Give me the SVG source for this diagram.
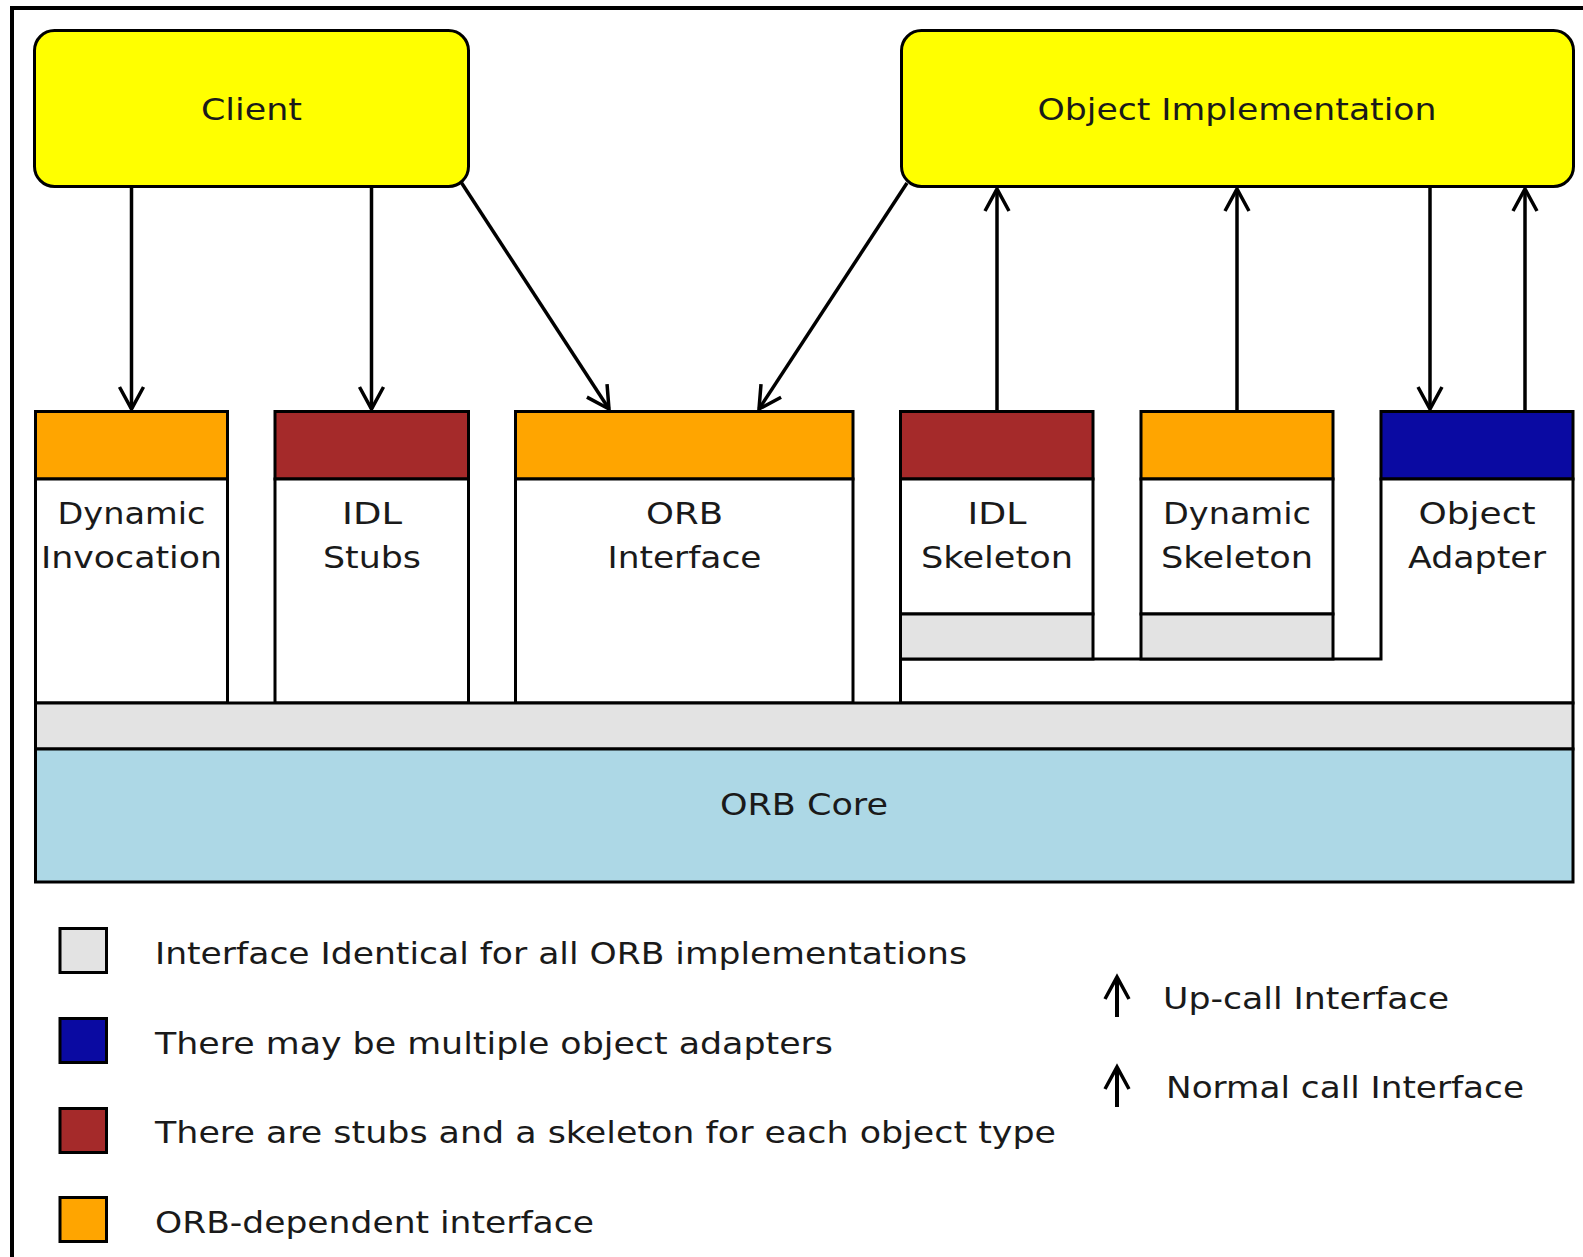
<svg xmlns="http://www.w3.org/2000/svg" width="1583" height="1257" viewBox="0 0 1583 1257">
  <style>
    .box { stroke: #000; stroke-width: 3; }
    .rbox { fill: #ffff00; stroke: #000; stroke-width: 3; }
    .orange { fill: #ffa500; }
    .brown { fill: #a52a2a; }
    .blue { fill: #0a0aa2; }
    .gray { fill: #e3e3e3; }
    .white { fill: #ffffff; }
    .core { fill: #add8e6; }
    text { font-family: "DejaVu Sans", "Liberation Sans", sans-serif; font-size: 30px; fill: #1a1a1a; }
    .c { text-anchor: middle; }
    .conn { stroke: #000; stroke-width: 3.5; fill: none; }
    .leg { stroke: #000; stroke-width: 4; fill: none; }
  </style>
  <defs>
    <marker id="ah" markerUnits="userSpaceOnUse" markerWidth="40" markerHeight="40" viewBox="-30 -20 40 40" refX="0" refY="0" orient="auto" overflow="visible">
      <path d="M-22,-12 L0,0 L-22,12" fill="none" stroke="#000" stroke-width="3.5" stroke-linejoin="miter"/>
    </marker>
  </defs>
  <rect x="0" y="0" width="1583" height="1257" fill="#ffffff"/>
  <rect id="frame" x="12" y="8" width="1700" height="1400" fill="none" stroke="#000" stroke-width="4"/>

  <g id="client">
    <rect class="rbox" x="34.5" y="30.5" width="434" height="156" rx="20"/>
    <text class="c" x="251.5" y="120" textLength="101" lengthAdjust="spacingAndGlyphs">Client</text>
  </g>
  <g id="object-implementation">
    <rect class="rbox" x="901.5" y="30.5" width="672" height="156" rx="20"/>
    <text class="c" x="1237" y="120" textLength="399" lengthAdjust="spacingAndGlyphs">Object Implementation</text>
  </g>

  <g id="dynamic-invocation">
    <rect class="box orange" x="35.5" y="411.5" width="192" height="67.5"/>
    <rect class="box white" x="35.5" y="479" width="192" height="224"/>
    <text class="c" x="131.5" y="524" textLength="148" lengthAdjust="spacingAndGlyphs">Dynamic</text>
    <text class="c" x="131.5" y="568" textLength="181" lengthAdjust="spacingAndGlyphs">Invocation</text>
  </g>
  <g id="idl-stubs">
    <rect class="box brown" x="275" y="411.5" width="193.5" height="67.5"/>
    <rect class="box white" x="275" y="479" width="193.5" height="224"/>
    <text class="c" x="372" y="524" textLength="60" lengthAdjust="spacingAndGlyphs">IDL</text>
    <text class="c" x="372" y="568" textLength="98" lengthAdjust="spacingAndGlyphs">Stubs</text>
  </g>
  <g id="orb-interface">
    <rect class="box orange" x="515.5" y="411.5" width="337.5" height="67.5"/>
    <rect class="box white" x="515.5" y="479" width="337.5" height="224"/>
    <text class="c" x="684.5" y="524" textLength="77" lengthAdjust="spacingAndGlyphs">ORB</text>
    <text class="c" x="684.5" y="568" textLength="154" lengthAdjust="spacingAndGlyphs">Interface</text>
  </g>
  <g id="object-adapter">
    <rect class="box blue" x="1381" y="411.5" width="192" height="67.5"/>
    <path class="box white" d="M1381,479 H1573 V703 H900.5 V659 H1381 Z"/>
    <text class="c" x="1477" y="524" textLength="117" lengthAdjust="spacingAndGlyphs">Object</text>
    <text class="c" x="1477" y="568" textLength="138" lengthAdjust="spacingAndGlyphs">Adapter</text>
  </g>
  <g id="idl-skeleton">
    <rect class="box brown" x="900.5" y="411.5" width="192.5" height="67.5"/>
    <rect class="box white" x="900.5" y="479" width="192.5" height="135"/>
    <rect class="box gray" x="900.5" y="614" width="192.5" height="45"/>
    <text class="c" x="997" y="524" textLength="59" lengthAdjust="spacingAndGlyphs">IDL</text>
    <text class="c" x="997" y="568" textLength="152" lengthAdjust="spacingAndGlyphs">Skeleton</text>
  </g>
  <g id="dynamic-skeleton">
    <rect class="box orange" x="1141" y="411.5" width="192" height="67.5"/>
    <rect class="box white" x="1141" y="479" width="192" height="135"/>
    <rect class="box gray" x="1141" y="614" width="192" height="45"/>
    <text class="c" x="1237" y="524" textLength="148" lengthAdjust="spacingAndGlyphs">Dynamic</text>
    <text class="c" x="1237" y="568" textLength="152" lengthAdjust="spacingAndGlyphs">Skeleton</text>
  </g>
  <g id="common-interface">
    <rect class="box gray" x="35.5" y="703" width="1537.5" height="46"/>
  </g>
  <g id="orb-core">
    <rect class="box core" x="35.5" y="749" width="1537.5" height="133" stroke-width="3.5"/>
    <text class="c" x="804" y="815" textLength="168" lengthAdjust="spacingAndGlyphs">ORB Core</text>
  </g>

  <g id="connectors">
    <line class="conn" x1="131.5" y1="188" x2="131.5" y2="409" marker-end="url(#ah)"/>
    <line class="conn" x1="371.5" y1="188" x2="371.5" y2="409" marker-end="url(#ah)"/>
    <line class="conn" x1="461" y1="182" x2="609" y2="409" marker-end="url(#ah)"/>
    <line class="conn" x1="907" y1="183" x2="759" y2="409" marker-end="url(#ah)"/>
    <line class="conn" x1="997" y1="410" x2="997" y2="189" marker-end="url(#ah)"/>
    <line class="conn" x1="1237" y1="410" x2="1237" y2="189" marker-end="url(#ah)"/>
    <line class="conn" x1="1430" y1="188" x2="1430" y2="409" marker-end="url(#ah)"/>
    <line class="conn" x1="1525" y1="410" x2="1525" y2="189" marker-end="url(#ah)"/>
  </g>

  <g id="legend">
    <rect class="box gray" x="60" y="928.5" width="46.5" height="44" stroke-width="3.5"/>
    <text x="155" y="964" textLength="812" lengthAdjust="spacingAndGlyphs">Interface Identical for all ORB implementations</text>
    <rect class="box blue" x="60" y="1018.5" width="46.5" height="44" stroke-width="3.5"/>
    <text x="155" y="1054" textLength="678" lengthAdjust="spacingAndGlyphs">There may be multiple object adapters</text>
    <rect class="box brown" x="60" y="1108.5" width="46.5" height="44" stroke-width="3.5"/>
    <text x="155" y="1143" textLength="901" lengthAdjust="spacingAndGlyphs">There are stubs and a skeleton for each object type</text>
    <rect class="box orange" x="60" y="1197.5" width="46.5" height="44" stroke-width="3.5"/>
    <text x="155" y="1233" textLength="439" lengthAdjust="spacingAndGlyphs">ORB-dependent interface</text>
    <line class="leg" x1="1117" y1="1017" x2="1117" y2="977" marker-end="url(#ah)"/>
    <text x="1163" y="1009" textLength="286" lengthAdjust="spacingAndGlyphs">Up-call Interface</text>
    <line class="leg" x1="1117" y1="1107" x2="1117" y2="1067" marker-end="url(#ah)"/>
    <text x="1166" y="1098" textLength="358" lengthAdjust="spacingAndGlyphs">Normal call Interface</text>
  </g>
</svg>
